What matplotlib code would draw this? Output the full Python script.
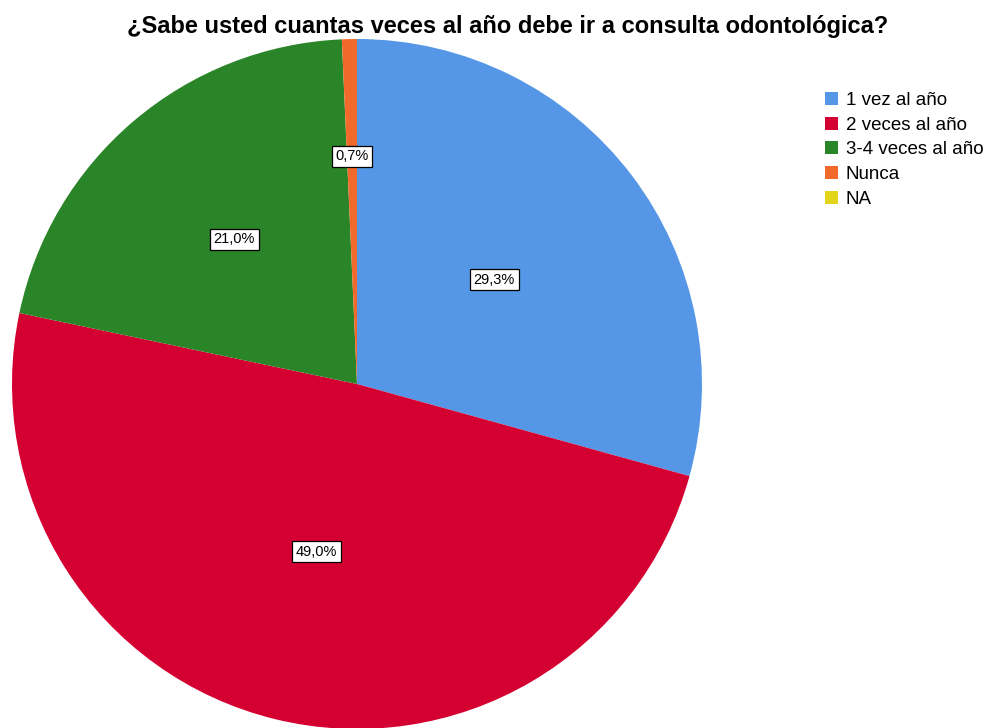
import numpy as np
import matplotlib
matplotlib.use("Agg")
import matplotlib.pyplot as plt

plt.rcParams['font.family'] = ['Liberation Sans', 'DejaVu Sans']

titulo = '¿Sabe usted cuantas veces al año debe ir a consulta odontológica?'
categorias = ['1 vez al año', '2 veces al año', '3-4 veces al año', 'Nunca', 'NA']
porcentajes = [29.3, 49.0, 21.0, 0.7, 0.0]
colores = ['#5597e6', '#d50032', '#2a8428', '#f26a2b', '#e2d51a']

# distancia radial de cada etiqueta de porcentaje
dist_etiqueta = [0.5, 0.5, 0.55, 0.66, 0.5]

fig = plt.figure(figsize=(9.9, 7.28), dpi=100)
ax = fig.add_axes([12 / 990, -1 / 728, 690 / 990, 690 / 728])

wedges, _ = ax.pie(porcentajes, colors=colores, startangle=90, counterclock=False,
                   radius=1, wedgeprops=dict(linewidth=0))

for w, p, d in zip(wedges, porcentajes, dist_etiqueta):
    if p <= 0:
        continue
    ang = np.deg2rad((w.theta1 + w.theta2) / 2)
    ax.text(d * np.cos(ang), d * np.sin(ang), f'{p:.1f}%'.replace('.', ','),
            ha='center', va='center', fontsize=10.5,
            bbox=dict(boxstyle='square,pad=0.25', fc='white', ec='black', lw=0.9))

ax.set_xlim(-1, 1)
ax.set_ylim(-1, 1)
ax.set_aspect('equal')
ax.axis('off')

fig.text(0.513, 0.963, titulo, ha='center', va='center', fontsize=17, fontweight='bold')

fig.legend(wedges, categorias, loc='upper left', bbox_to_anchor=(825 / 990, 1 - 92 / 728),
           frameon=False, fontsize=13.5, handlelength=0.7, handleheight=0.7,
           handletextpad=0.4, labelspacing=0.4, borderaxespad=0, borderpad=0)

fig.savefig('out.png', dpi=100)
